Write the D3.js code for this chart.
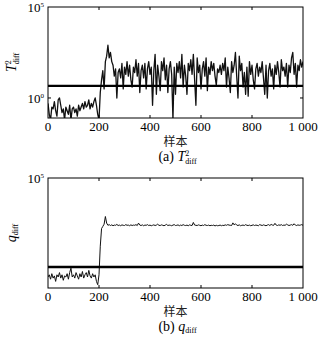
<!DOCTYPE html>
<html>
<head>
<meta charset="utf-8">
<script src="https://cdn.jsdelivr.net/npm/d3@7"></script>
<style>
  body { margin: 0; background: #fff; }
</style>
</head>
<body>
<svg id="chart" width="327" height="347"></svg>
<script>
// sample index, every 5 samples
const samples = d3.range(0, 1001, 5);
const xTicks = [0, 200, 400, 600, 800, 1000];

// log10(T2diff)
const t2Log = [
  -0.3,-0.9,-1.2,-0.5,-0.6,-0.2,-0.7,-1.0,-0.1,0.0,-0.4,-0.8,-0.6,-1.2,-0.5,-0.7,-0.9,-0.4,-1.2,-0.6,
  -0.5,-0.8,-0.6,-1.0,-0.4,-0.7,-0.5,-0.3,-0.6,-0.2,-0.5,-0.4,-0.1,-0.6,-0.3,-0.5,-0.2,0.0,-0.4,-0.9,-1.2,
  0.3,1.0,1.5,0.5,2.0,2.3,2.9,2.2,2.5,2.0,1.8,1.2,1.6,0.0,1.4,
  1.6,1.1,1.9,0.5,1.7,1.3,2.0,1.2,1.8,1.0,
  0.6,1.7,1.4,2.1,1.2,1.9,0.3,1.5,1.8,1.1,
  1.9,0.5,1.6,2.0,1.3,1.7,-0.4,1.5,2.4,0.2,
  1.8,1.2,0.4,2.0,1.5,2.2,1.0,1.8,0.3,1.6,
  2.0,1.3,-1.2,1.7,0.2,1.9,1.4,2.0,1.1,2.4,
  0.6,1.8,1.2,0.2,1.9,1.5,2.1,1.3,2.4,1.0,
  -0.4,2.2,1.4,1.8,0.5,1.6,2.0,1.2,2.2,0.4,
  1.7,1.3,2.0,1.5,1.9,1.2,0.7,1.6,1.4,1.8,
  1.3,1.9,1.5,2.2,0.6,1.7,1.1,0.3,2.0,1.4,
  1.8,2.5,1.2,0.0,2.3,1.5,1.9,0.6,1.4,0.2,
  1.7,0.1,2.0,1.3,1.8,1.0,0.5,1.6,1.9,1.2,
  1.7,1.4,2.0,1.1,0.2,1.8,0.0,1.5,1.9,1.2,
  1.6,0.5,1.8,1.3,2.0,1.4,0.6,2.1,1.5,1.7,
  1.2,1.9,0.6,1.8,1.4,2.2,2.5,1.3,1.9,0.6,
  1.8,1.5,2.1,1.7,2.0
];
const t2Limit = 4.6;

// log10(qdiff)
const qLog = [
  0.5,0.6,0.4,0.65,0.45,0.55,0.3,0.6,0.5,0.7,0.45,0.6,0.35,0.55,0.5,0.65,0.4,0.7,0.9,0.5,
  0.6,0.45,0.7,0.55,0.4,0.65,0.5,0.75,0.45,0.6,0.7,0.5,0.8,0.55,0.45,0.65,0.5,0.6,0.3,0.15,0.6,
  1.9,2.7,2.8,2.9,3.25,2.95,2.85,
  2.88,2.84,2.87,2.83,2.86,2.85,2.89,2.84,2.86,2.83,
  2.87,2.85,2.84,2.88,2.85,2.86,2.83,2.87,2.84,2.86,
  2.85,2.88,2.84,2.95,2.86,2.84,2.87,2.83,2.86,2.85,
  2.88,2.84,2.86,2.83,2.85,2.87,2.84,2.86,2.90,2.85,
  2.84,2.87,2.85,2.83,2.86,2.89,2.84,2.86,2.85,2.83,
  2.86,2.88,2.84,2.85,2.87,2.83,2.86,2.84,2.88,2.85,
  2.84,2.86,2.83,2.87,2.85,2.84,2.98,2.86,2.85,2.84,
  2.87,2.85,2.83,2.86,2.84,2.88,2.85,2.84,2.86,2.83,
  2.85,2.84,2.86,2.82,2.85,2.83,2.84,2.86,2.83,2.85,
  2.84,2.87,2.85,2.88,2.86,2.85,2.84,2.96,2.87,2.92,
  2.86,2.84,2.87,2.83,2.85,2.86,2.84,2.88,2.85,2.84,
  2.86,2.83,2.85,2.87,2.84,2.86,2.85,2.83,2.88,2.86,
  2.84,2.87,2.85,2.83,2.86,2.88,2.84,2.89,2.86,2.85,
  2.94,2.86,2.84,2.87,2.85,2.88,2.84,2.86,2.85,2.90,
  2.87,2.84,2.86,2.88,2.85,2.92,2.86,2.84,2.87,2.85,
  2.86,2.88,2.85
];
const qLimit = 9;

const SERIF = '"Liberation Serif"';
const svg = d3.select("#chart");

function label(sel) {
  return sel.append("text").style("font-family", SERIF).attr("fill", "#000");
}

function panel(cfg) {
  const g = svg.append("g");
  const x = d3.scaleLinear().domain([0, 1000]).range([cfg.left, cfg.right]);
  const y = d3.scaleLog().domain(cfg.yDomain).range([cfg.bottom, cfg.top]);

  const clipId = "clip" + cfg.id;
  svg.append("clipPath").attr("id", clipId)
    .append("rect").attr("x", cfg.left).attr("y", cfg.top)
    .attr("width", cfg.right - cfg.left).attr("height", cfg.bottom - cfg.top);

  const pts = samples.map((s, i) => [s, Math.pow(10, cfg.values[i])]);
  g.append("path")
    .attr("clip-path", `url(#${clipId})`)
    .attr("d", d3.line().x(d => x(d[0])).y(d => y(d[1]))(pts))
    .attr("fill", "none").attr("stroke", "#111").attr("stroke-width", cfg.lw)
    .attr("stroke-linejoin", "round");

  // control limit
  g.append("line")
    .attr("x1", cfg.left).attr("x2", cfg.right)
    .attr("y1", y(cfg.limit)).attr("y2", y(cfg.limit))
    .attr("stroke", "#000").attr("stroke-width", 2.4);

  // frame
  g.append("rect")
    .attr("x", cfg.left).attr("y", cfg.top)
    .attr("width", cfg.right - cfg.left).attr("height", cfg.bottom - cfg.top)
    .attr("fill", "none").attr("stroke", "#000").attr("stroke-width", 1);

  // inward ticks top and bottom
  const inner = xTicks.slice(1, -1);
  g.selectAll(".tb").data(inner).join("line")
    .attr("x1", d => x(d)).attr("x2", d => x(d))
    .attr("y1", cfg.bottom).attr("y2", cfg.bottom - 3)
    .attr("stroke", "#000");
  g.selectAll(".tt").data(inner).join("line")
    .attr("x1", d => x(d)).attr("x2", d => x(d))
    .attr("y1", cfg.top).attr("y2", cfg.top + 3)
    .attr("stroke", "#000");

  xTicks.forEach(d => {
    label(g).attr("x", x(d)).attr("y", cfg.bottom + 13)
      .attr("text-anchor", "middle").attr("font-size", 13)
      .text(d === 1000 ? "1 000" : d);
  });

  // y tick labels 10^n
  cfg.yTicks.forEach(t => {
    const yy = y(Math.pow(10, t));
    if (yy < cfg.bottom - 1 && yy > cfg.top + 1) {
      g.append("line").attr("x1", cfg.left).attr("x2", cfg.left + 3)
        .attr("y1", yy).attr("y2", yy).attr("stroke", "#000");
      g.append("line").attr("x1", cfg.right).attr("x2", cfg.right - 3)
        .attr("y1", yy).attr("y2", yy).attr("stroke", "#000");
    }
    const tx = label(g).attr("x", cfg.left - 4).attr("y", yy + 5)
      .attr("text-anchor", "end").attr("font-size", 13);
    tx.append("tspan").text("10");
    tx.append("tspan").attr("font-size", 7).attr("dy", -5).text(t);
  });

  g.append("text")
    .style("font-family", '"Noto Sans CJK SC"')
    .attr("x", (cfg.left + cfg.right) / 2).attr("y", cfg.bottom + 28)
    .attr("text-anchor", "middle").attr("font-size", 12).attr("fill", "#222")
    .text("样本");

  // y axis title
  const yt = label(g)
    .attr("transform", `translate(${cfg.left - 32},${(cfg.top + cfg.bottom) / 2}) rotate(-90)`)
    .attr("text-anchor", "middle").attr("font-size", 14);
  cfg.symbol(yt);

  const cap = label(g)
    .attr("x", (cfg.left + cfg.right) / 2 + 2).attr("y", cfg.bottom + 43)
    .attr("text-anchor", "middle").attr("font-size", 14);
  cap.append("tspan").text(cfg.tag + " ");
  cfg.symbol(cap);
}

function t2Symbol(t) {
  t.append("tspan").attr("font-style", "italic").text("T");
  t.append("tspan").attr("font-size", 8).attr("dy", -5).text("2");
  t.append("tspan").attr("font-size", 8).attr("dx", -4).attr("dy", 8).text("diff");
  t.append("tspan").attr("font-size", 1).attr("dy", -3).text(" ");
}
function qSymbol(t) {
  t.append("tspan").attr("font-style", "italic").text("q");
  t.append("tspan").attr("font-size", 8).attr("dy", 2).text("diff");
  t.append("tspan").attr("font-size", 1).attr("dy", -2).text(" ");
}

panel({ id: "a", left: 48, right: 303, top: 7, bottom: 118,
  yDomain: [Math.pow(10, -1.1), 1e5], yTicks: [0, 5], values: t2Log,
  limit: t2Limit, tag: "(a)", symbol: t2Symbol, lw: 1.3 });

panel({ id: "b", left: 48, right: 303, top: 178, bottom: 288,
  yDomain: [1, 1e5], yTicks: [5], values: qLog,
  limit: qLimit, tag: "(b)", symbol: qSymbol, lw: 1 });
</script>
</body>
</html>
